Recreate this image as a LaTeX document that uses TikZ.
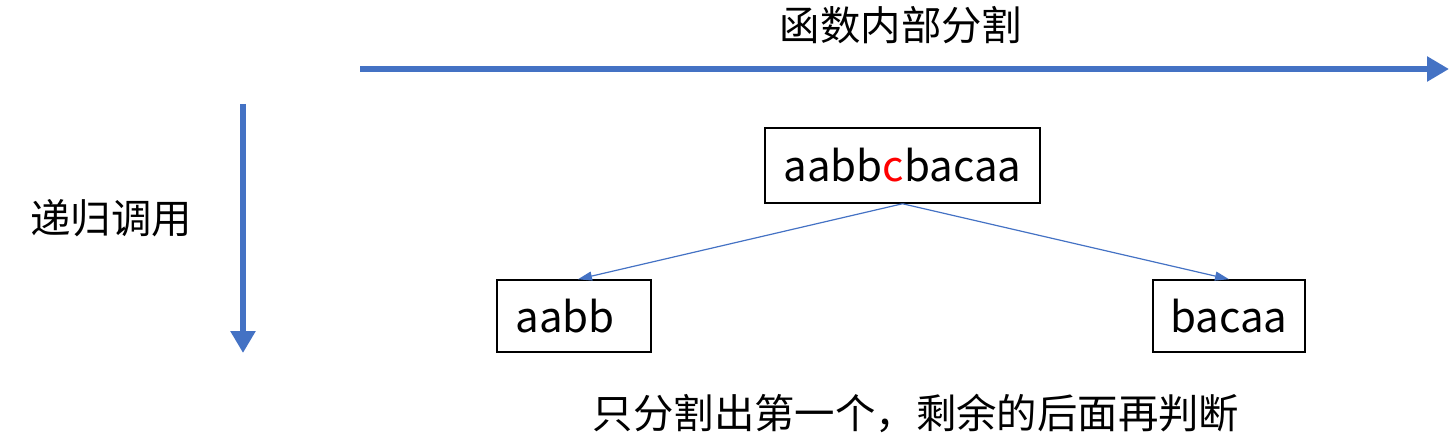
\documentclass[tikz,border=0pt]{standalone}
\usepackage{fontspec}
\setmainfont{Noto Sans CJK SC}
\usetikzlibrary{arrows.meta}
\definecolor{myblue}{HTML}{4472C4}
\begin{document}
\begin{tikzpicture}[x=1pt,y=-1pt,
  strbox/.style={draw=black,line width=1.5pt,inner sep=0pt,font=\fontsize{42}{50}\selectfont},
  lbl/.style={inner sep=0pt,font=\fontsize{40.4}{48}\selectfont},
  bigarrow/.style={myblue,line width=6pt,-{Triangle[length=22pt,width=24pt]}},
  thinarrow/.style={myblue,line width=1.2pt,-{Triangle[length=14pt,width=9pt]}}]
\useasboundingbox (0,0) rectangle (1455,441);
\node[lbl] (title) at (901,25) {函数内部分割};
\node[lbl] (rec) at (111,218) {递归调用};
\node[lbl] (note) at (916,413) {只分割出第一个，剩余的后面再判断};
\coordinate (hs) at (360,69);
\coordinate (he) at (1449,69);
\coordinate (vs) at (243,104);
\coordinate (ve) at (243,353);
\draw[bigarrow] (hs) -- (he);
\draw[bigarrow] (vs) -- (ve);
\node[strbox,minimum width=275pt,minimum height=75pt] (top) at (902.5,165.5) {aabb\textcolor{red}{c}bacaa};
\node[strbox,minimum width=154pt,minimum height=72pt] (left) at (574,316) {aabb\kern18pt};
\node[strbox,minimum width=152pt,minimum height=72pt] (right) at (1229,316) {bacaa};
\draw[thinarrow] (top.south) -- ([xshift=4pt]left.north);
\draw[thinarrow] (top.south) -- (right.north);
\end{tikzpicture}
\end{document}
